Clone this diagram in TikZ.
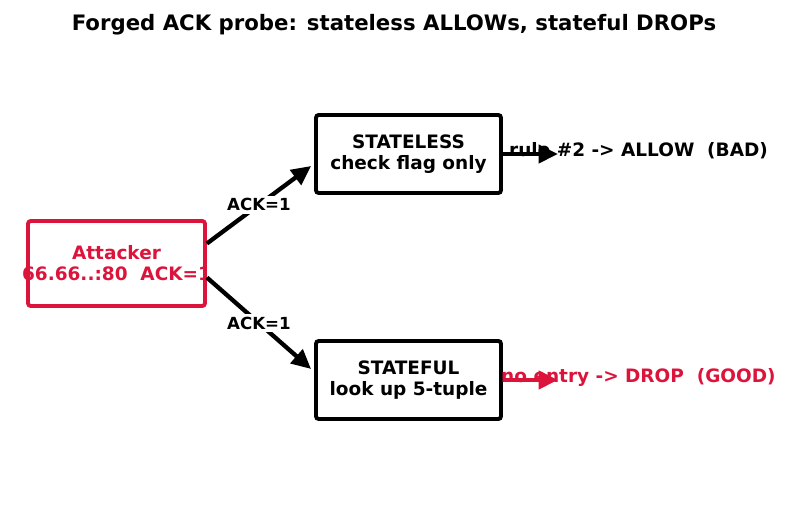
\documentclass[tikz,border=0pt]{standalone}
\usepackage{fontspec}
\setmainfont{DejaVu Sans}
\usetikzlibrary{arrows.meta,calc}
\definecolor{attackred}{HTML}{DC143C}

\begin{document}
\begin{tikzpicture}[x=0.72pt,y=-0.72pt,
 fwbox/.style={rounded corners=2pt,draw=black,line width=2.8pt,fill=white,minimum width=133.2pt,minimum height=56.2pt,inner sep=0pt,align=center,font=\fontsize{13.3}{15.1}\selectfont\bfseries},
 flow/.style={line width=3.1pt,-{Triangle[length=14pt,width=13pt]}},
 acklabel/.style={fill=white,inner sep=2pt,font=\fontsize{12}{14}\selectfont\bfseries},
 verdict/.style={anchor=west,inner sep=0pt,font=\fontsize{13.3}{15}\selectfont\bfseries}]
\useasboundingbox (0,0) rectangle (788,508);

\node[font=\fontsize{15.3}{18}\selectfont\bfseries] (title) at (394,25) {Forged ACK probe: stateless ALLOWs, stateful DROPs};

% attacker box, its text runs past the border
\node[rounded corners=2pt,draw=attackred,line width=2.8pt,minimum width=127.4pt,minimum height=61.2pt,inner sep=0pt] (attacker) at (116.5,263.5) {};
\node[text=attackred,align=center,font=\fontsize{13.3}{15.1}\selectfont\bfseries] (attackertext) at (attacker) {Attacker\\66.66..:80\ \ ACK=1};

\node[fwbox] (stateless) at (408.5,154) {STATELESS\\check flag only};
\node[fwbox] (stateful) at (408.5,380) {STATEFUL\\look up 5-tuple};

\draw[flow] ($(attacker.east)+(0,-20)$) -- ($(stateless.west)+(-3,12)$) node[acklabel,midway] (ackup) {ACK=1};
\draw[flow] ($(attacker.east)+(0,14)$) -- ($(stateful.west)+(-3,-11)$) node[acklabel,midway] (ackdown) {ACK=1};

% verdicts, arrows drawn over the text
\node[verdict] (allow) at ($(stateless.east)+(6,-3)$) {rule \#2 -> ALLOW\ \ (BAD)};
\coordinate (allowend) at ($(stateless.east)+(55,0)$);
\draw[flow] (stateless.east) -- (allowend);

\node[verdict,text=attackred] (drop) at ($(stateful.east)+(-2,-3)$) {no entry -> DROP\ \ (GOOD)};
\coordinate (dropend) at ($(stateful.east)+(55,0)$);
\draw[flow,draw=attackred,fill=attackred] (stateful.east) -- (dropend);
\end{tikzpicture}
\end{document}
